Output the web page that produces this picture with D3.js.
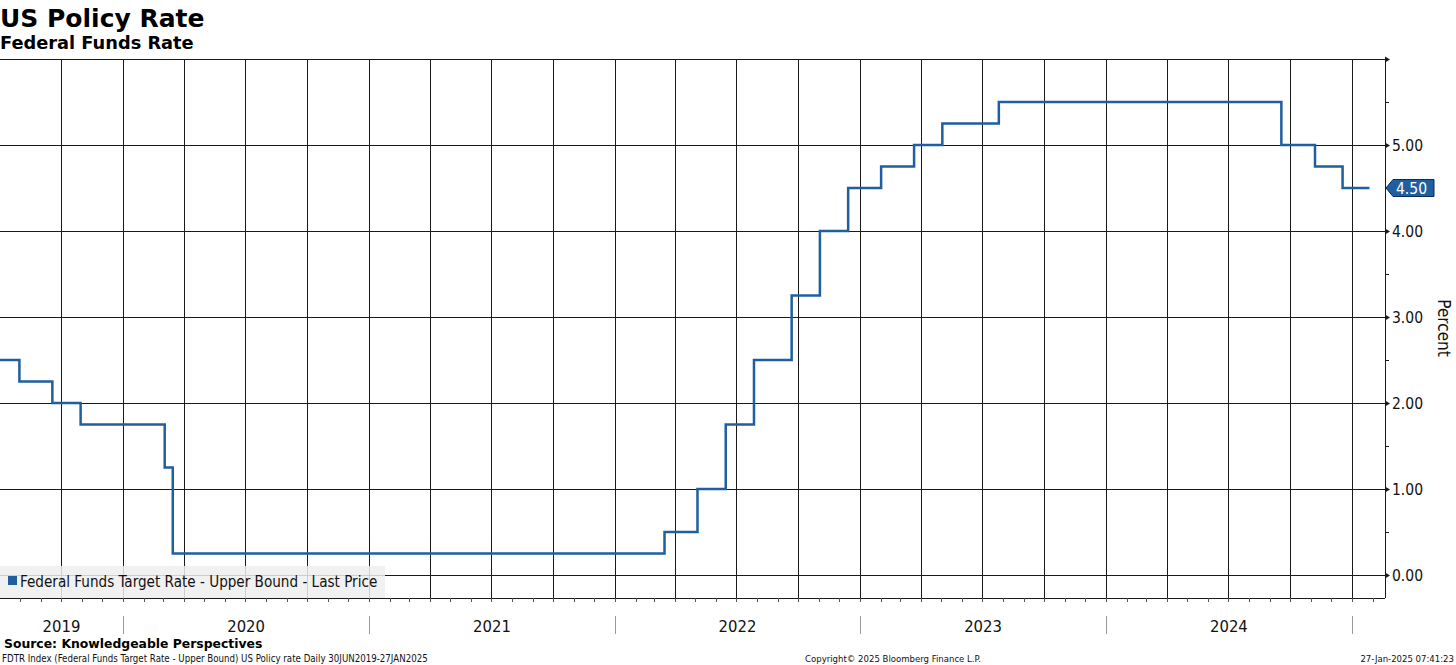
<!DOCTYPE html>
<html><head><meta charset="utf-8">
<script src="https://cdn.jsdelivr.net/npm/d3@7"></script>
<style>
body{margin:0;background:#fff;}
svg{display:block;}
text{font-family:"DejaVu Sans Condensed","DejaVu Sans",sans-serif;}
text.bold{font-family:"DejaVu Sans",sans-serif;font-weight:bold;}
</style></head>
<body>
<svg id="c" width="1456" height="665"></svg>
<script>
// ---- data ----
const changeDates = ["2019-06-30","2019-07-31","2019-09-18","2019-10-30","2020-03-03","2020-03-15",
  "2022-03-16","2022-05-04","2022-06-15","2022-07-27","2022-09-21","2022-11-02","2022-12-14",
  "2023-02-01","2023-03-22","2023-05-03","2023-07-26","2024-09-18","2024-11-07","2024-12-18","2025-01-27"];
const rates = [2.50,2.25,2.00,1.75,1.25,0.25,0.50,1.00,1.75,2.50,3.25,4.00,4.50,4.75,5.00,5.25,5.50,5.00,4.75,4.50,4.50];
const yTicks = [0,1,2,3,4,5];
const yearLabels = ["2019","2020","2021","2022","2023","2024"];
const lastValue = "4.50";
const seriesName = "Federal Funds Target Rate - Upper Bound - Last Price";

const parse = d3.timeParse("%Y-%m-%d");
const data = changeDates.map((d,i)=>({date:parse(d), v:rates[i]}));

const svg = d3.select("#c");
const L = 0, R = 1385, T = 59, B = 598;

const x = d3.scaleTime().domain([new Date(2020,0,1), new Date(2025,0,1)]).range([123,1352]);
x.domain([x.invert(L), x.invert(R)]).range([L,R]);
const y = d3.scaleLinear().domain([0,5]).range([575,145]);

const crisp = v => Math.round(v)+0.5;
const g = svg.append("g");

// quarterly vertical gridlines
const quarters = d3.timeMonth.every(3).range(x.domain()[0], x.domain()[1]);
g.selectAll("line.vq").data(quarters).join("line")
  .attr("x1",d=>crisp(x(d))).attr("x2",d=>crisp(x(d)))
  .attr("y1",T).attr("y2",B+4).attr("stroke","#1a1a1a").attr("stroke-width",1);

// horizontal gridlines
g.selectAll("line.hy").data(yTicks).join("line")
  .attr("x1",L).attr("x2",R).attr("y1",d=>crisp(y(d))).attr("y2",d=>crisp(y(d)))
  .attr("stroke","#1a1a1a").attr("stroke-width",1);

// top border
g.append("line").attr("x1",L).attr("x2",R).attr("y1",crisp(T)).attr("y2",crisp(T)).attr("stroke","#1a1a1a");
// bottom axis line
g.append("line").attr("x1",L).attr("x2",R).attr("y1",crisp(B)).attr("y2",crisp(B)).attr("stroke","#1a1a1a");
// monthly minor ticks
const months = d3.timeMonth.every(1).range(x.domain()[0], x.domain()[1]);
g.selectAll("line.mt").data(months).join("line")
  .attr("x1",d=>crisp(x(d))).attr("x2",d=>crisp(x(d)))
  .attr("y1",B).attr("y2",B+4).attr("stroke","#555");

// legend box (behind line)
const lg = svg.append("g");
lg.append("rect").attr("x",0).attr("y",566).attr("width",385).attr("height",32).attr("fill","rgba(238,238,238,0.85)");
lg.append("rect").attr("x",8).attr("y",576).attr("width",9).attr("height",9).attr("fill","#1f5fa0");
lg.append("text").attr("x",20).attr("y",587).attr("font-size",15.1).attr("fill","#111").text(seriesName);

// series line
const line = d3.line().x(d=>x(d.date)).y(d=>y(d.v)).curve(d3.curveStepAfter);
svg.append("path").datum(data).attr("d",line).attr("fill","none")
  .attr("stroke","#1f5fa0").attr("stroke-width",2.5).attr("stroke-linejoin","miter");

// right axis
const ax = svg.append("g");
ax.append("line").attr("x1",crisp(R)).attr("x2",crisp(R)).attr("y1",T).attr("y2",B).attr("stroke","#1a1a1a");
const halfTicks = d3.range(0.5,6,1);
ax.selectAll("line.ht").data(halfTicks).join("line")
  .attr("x1",R).attr("x2",R+4).attr("y1",d=>crisp(y(d))).attr("y2",d=>crisp(y(d))).attr("stroke","#1a1a1a");
const majorTicks = yTicks.concat([6]);
ax.selectAll("path.mt").data(majorTicks).join("path")
  .attr("d",d=>{const yy=y(d)+0.5;return `M${R},${yy-3}L${R+5},${yy}L${R},${yy+3}Z`;})
  .attr("fill","#1a1a1a");
ax.selectAll("text.yl").data(yTicks).join("text")
  .attr("x",R+7).attr("y",d=>y(d)+6).attr("font-size",15.5).attr("fill","#111")
  .text(d=>d3.format(".2f")(d));
svg.append("text").attr("transform","translate(1438,328) rotate(90)")
  .attr("text-anchor","middle").attr("font-size",17).attr("fill","#111").text("Percent");

// last value tag
const ty = y(+lastValue);
svg.append("path").attr("d",`M${R+1},${ty}L${R+8},${ty-8.5}L${R+49},${ty-8.5}L${R+49},${ty+8.5}L${R+8},${ty+8.5}Z`)
  .attr("fill","#1f5fa0").attr("stroke","#0b2d55").attr("stroke-width",1);
svg.append("text").attr("x",R+11).attr("y",ty+6).attr("font-size",15.5).attr("fill","#fff").text(lastValue);

// year separators and labels
const yearStarts = d3.range(2020,2026).map(yr=>new Date(yr,0,1));
svg.selectAll("line.ys").data(yearStarts).join("line")
  .attr("x1",d=>crisp(x(d))).attr("x2",d=>crisp(x(d))).attr("y1",616).attr("y2",634)
  .attr("stroke","#999");
const yearCenters = yearLabels.map(s=>{
  const yr=+s; const a=Math.max(x(new Date(yr,0,1)),L); const b=x(new Date(yr+1,0,1));
  return (a+b)/2;});
svg.selectAll("text.yr").data(yearLabels).join("text")
  .attr("x",(d,i)=>yearCenters[i]).attr("y",632).attr("text-anchor","middle")
  .attr("font-size",16.5).attr("fill","#111").text(d=>d);

// titles
svg.append("text").attr("class","bold").attr("x",0).attr("y",27)
  .attr("font-size",25).attr("fill","#000").text("US Policy Rate");
svg.append("text").attr("class","bold").attr("x",0).attr("y",49)
  .attr("font-size",17.8).attr("fill","#000").text("Federal Funds Rate");

// footer
svg.append("text").attr("class","bold").attr("x",4).attr("y",648)
  .attr("font-size",12.4).attr("fill","#000").text("Source: Knowledgeable Perspectives");
svg.append("text").attr("x",2).attr("y",662).attr("font-size",9.65).attr("fill","#111")
  .text("FDTR Index (Federal Funds Target Rate - Upper Bound) US Policy rate  Daily 30JUN2019-27JAN2025");
svg.append("text").attr("x",893).attr("y",662).attr("text-anchor","middle").attr("font-size",9.5).attr("fill","#111")
  .text("Copyright\u00A9 2025 Bloomberg Finance L.P.");
svg.append("text").attr("x",1454).attr("y",662).attr("text-anchor","end").attr("font-size",9.5).attr("fill","#111")
  .text("27-Jan-2025 07:41:23");
</script>
</body></html>
